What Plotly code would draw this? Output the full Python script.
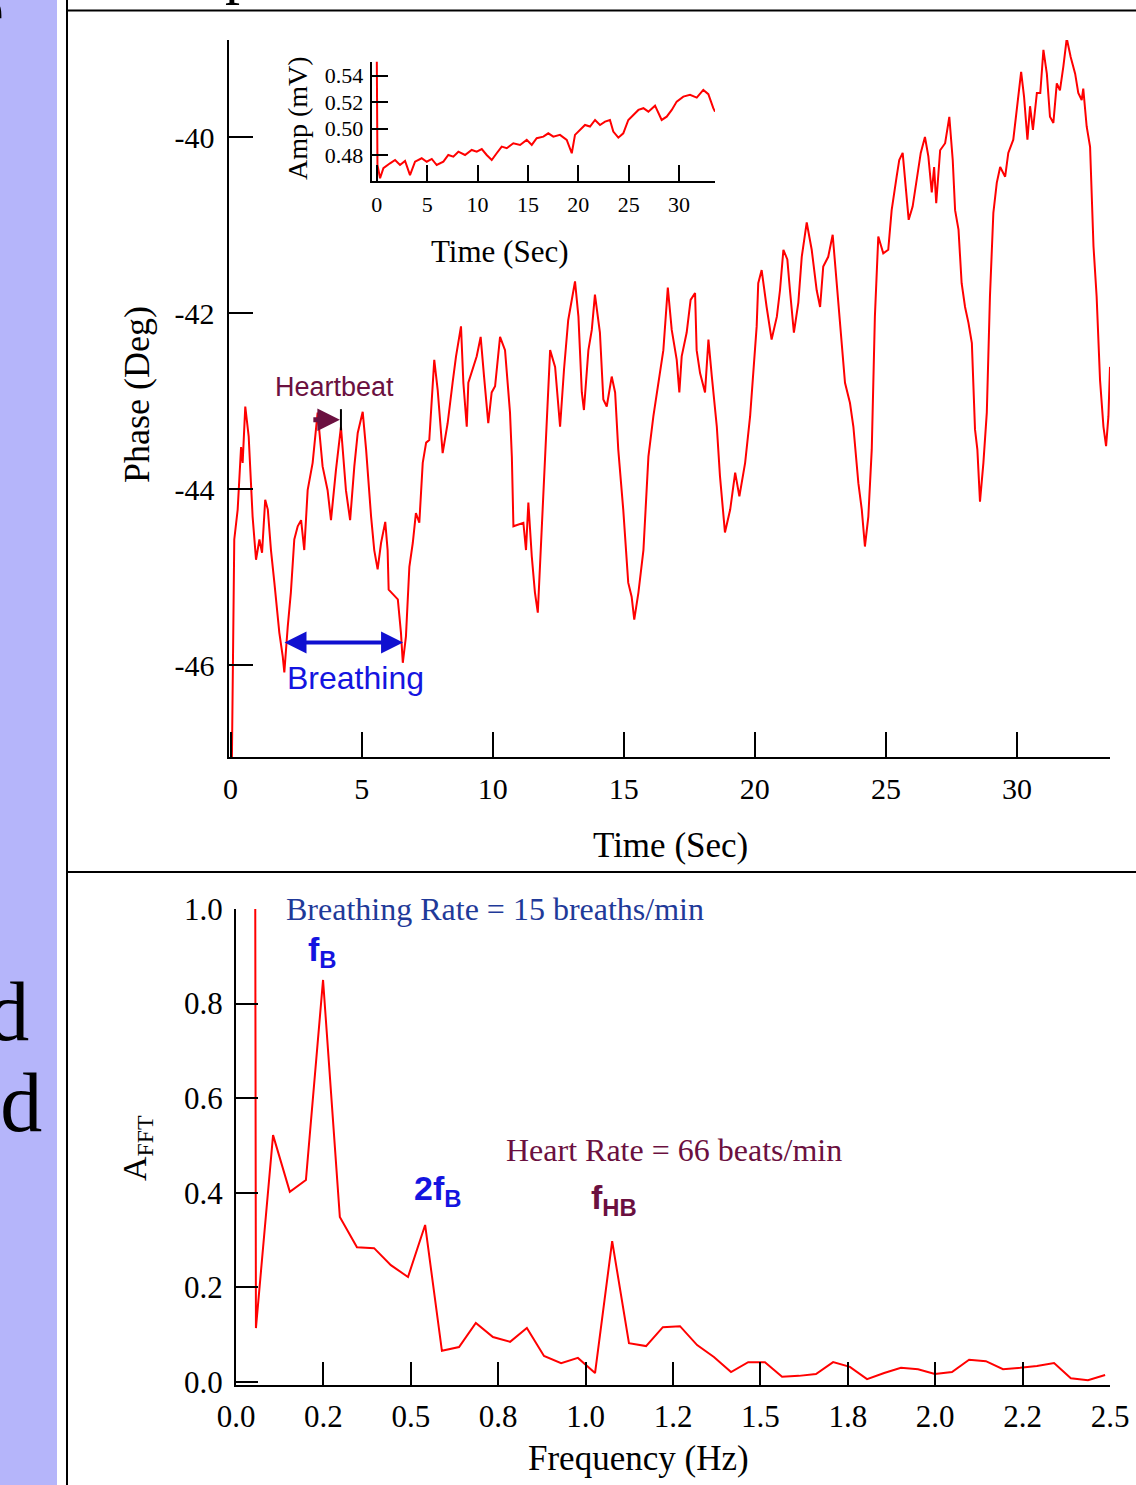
import plotly.graph_objects as go

# ---------------- data ----------------
time_s = [0.03, 0.09, 0.14, 0.27, 0.40, 0.46, 0.56, 0.69, 0.84, 0.97,
          1.10, 1.20, 1.32, 1.42, 1.54, 1.67, 1.86, 1.99, 2.05, 2.18,
          2.30, 2.43, 2.56, 2.69, 2.81, 2.94, 3.13, 3.32, 3.51, 3.70,
          3.83, 4.02, 4.21, 4.40, 4.56, 4.72, 4.85, 5.04, 5.17, 5.36,
          5.48, 5.61, 5.74, 5.90, 5.99, 6.03, 6.38, 6.50, 6.57, 6.69,
          6.82, 6.95, 7.07, 7.20, 7.33, 7.46, 7.58, 7.77, 7.90, 8.09,
          8.28, 8.47, 8.60, 8.79, 8.88, 9.01, 9.07, 9.39, 9.54, 9.67,
          9.83, 9.96, 10.09, 10.28, 10.47, 10.66, 10.73, 10.79, 11.17, 11.27,
          11.36, 11.49, 11.61, 11.72, 11.87, 12.03, 12.19, 12.38, 12.57, 12.72,
          12.88, 13.14, 13.27, 13.40, 13.48, 13.65, 13.78, 13.90, 14.09, 14.22,
          14.35, 14.54, 14.67, 14.79, 14.98, 15.17, 15.30, 15.40, 15.56, 15.75,
          15.94, 16.13, 16.32, 16.51, 16.68, 16.83, 17.02, 17.12, 17.21, 17.40,
          17.55, 17.72, 17.78, 17.91, 18.10, 18.23, 18.36, 18.55, 18.67, 18.86,
          19.06, 19.25, 19.41, 19.63, 19.82, 19.94, 20.07, 20.13, 20.26, 20.45,
          20.64, 20.84, 20.96, 21.09, 21.24, 21.34, 21.49, 21.66, 21.79, 21.98,
          22.17, 22.36, 22.49, 22.61, 22.80, 22.97, 23.12, 23.32, 23.44, 23.63,
          23.76, 23.95, 24.08, 24.20, 24.33, 24.46, 24.58, 24.71, 24.90, 25.09,
          25.22, 25.41, 25.51, 25.64, 25.77, 25.87, 26.02, 26.18, 26.33, 26.49,
          26.62, 26.75, 26.84, 26.92, 27.07, 27.26, 27.42, 27.55, 27.64, 27.77,
          27.89, 28.02, 28.15, 28.28, 28.40, 28.49, 28.59, 28.72, 28.85, 28.97,
          29.10, 29.23, 29.36, 29.55, 29.67, 29.86, 29.99, 30.16, 30.27, 30.40,
          30.50, 30.61, 30.76, 30.89, 31.01, 31.14, 31.26, 31.39, 31.52, 31.64,
          31.77, 31.90, 32.05, 32.22, 32.34, 32.47, 32.53, 32.66, 32.79, 32.92,
          33.04, 33.17, 33.30, 33.40, 33.49, 33.55]
phase_deg = [-47.6, -45.82, -44.57, -44.23, -43.52, -43.70, -43.06, -43.40, -44.31, -44.80,
             -44.57, -44.72, -44.12, -44.23, -44.69, -45.06, -45.63, -45.90, -46.08, -45.56,
             -45.17, -44.57, -44.42, -44.35, -44.69, -44.01, -43.70, -43.13, -43.74, -44.01,
             -44.35, -43.78, -43.29, -44.01, -44.35, -43.74, -43.36, -43.12, -43.55, -44.31,
             -44.69, -44.91, -44.61, -44.37, -44.69, -45.14, -45.25, -45.63, -45.97, -45.67,
             -44.88, -44.61, -44.27, -44.38, -43.70, -43.47, -43.44, -42.53, -42.87, -43.59,
             -43.25, -42.79, -42.49, -42.15, -42.79, -43.29, -42.79, -42.49, -42.27, -42.72,
             -43.25, -42.90, -42.83, -42.27, -42.42, -43.13, -43.63, -44.42, -44.38, -44.69,
             -44.15, -44.76, -45.17, -45.40, -44.49, -43.55, -42.42, -42.61, -43.29, -42.64,
             -42.08, -41.64, -42.04, -42.90, -43.10, -42.42, -42.19, -41.79, -42.22, -42.98,
             -43.06, -42.72, -42.90, -43.55, -44.23, -45.06, -45.22, -45.48, -45.17, -44.69,
             -43.63, -43.17, -42.79, -42.42, -41.71, -42.19, -42.53, -42.90, -42.49, -42.22,
             -41.85, -41.77, -42.42, -42.68, -42.90, -42.30, -42.72, -43.29, -43.85, -44.49,
             -44.23, -43.81, -44.08, -43.70, -43.17, -42.68, -42.15, -41.66, -41.51, -41.93,
             -42.30, -42.04, -41.74, -41.28, -41.39, -41.74, -42.22, -41.88, -41.36, -40.97,
             -41.28, -41.74, -41.93, -41.47, -41.36, -41.11, -41.66, -42.42, -42.79, -43.02,
             -43.29, -43.93, -44.23, -44.65, -44.31, -43.55, -42.04, -41.13, -41.32, -41.28,
             -40.83, -40.45, -40.26, -40.18, -40.63, -40.94, -40.79, -40.45, -40.18, -40.00,
             -40.22, -40.63, -40.34, -40.75, -40.15, -40.07, -39.77, -40.26, -40.83, -41.05,
             -41.66, -41.93, -42.11, -42.34, -43.32, -43.55, -44.14, -43.70, -43.13, -41.81,
             -40.86, -40.52, -40.34, -40.45, -40.18, -40.03, -39.69, -39.26, -39.54, -40.03,
             -39.65, -39.92, -39.50, -39.50, -39.01, -39.28, -39.77, -39.84, -39.39, -39.47,
             -39.20, -38.88, -39.09, -39.28, -39.50, -39.58, -39.45, -39.88, -40.11, -41.24,
             -41.81, -42.76, -43.29, -43.51, -43.17, -42.61]

amp_t = [0.00, 0.07, 0.33, 0.66, 1.32, 1.82, 2.31, 2.81, 3.30, 3.80,
         4.46, 4.96, 5.46, 5.95, 6.61, 7.10, 7.60, 8.10, 8.76, 9.42,
         9.92, 10.42, 10.91, 11.41, 11.90, 12.40, 12.90, 13.55, 14.22, 14.88,
         15.38, 15.87, 16.53, 17.02, 17.52, 18.18, 18.85, 19.35, 19.67, 20.17,
         20.66, 21.16, 21.66, 22.15, 22.65, 23.14, 23.47, 23.97, 24.46, 24.96,
         25.46, 25.96, 26.46, 26.95, 27.61, 28.27, 28.77, 29.27, 29.76, 30.42,
         31.08, 31.75, 32.40, 32.90, 33.39, 33.56]
amp_mv = [0.560, 0.4724, 0.4624, 0.4700, 0.4737, 0.4762, 0.4724, 0.4755, 0.4648, 0.4749,
          0.4775, 0.4749, 0.4770, 0.4724, 0.4749, 0.4800, 0.4787, 0.4825, 0.4800, 0.4838,
          0.4825, 0.4845, 0.4800, 0.4762, 0.4813, 0.4863, 0.4851, 0.4889, 0.4876, 0.4914,
          0.4876, 0.4927, 0.4939, 0.4964, 0.4939, 0.4952, 0.4914, 0.4813, 0.4952, 0.4989,
          0.5027, 0.5015, 0.5065, 0.5027, 0.5052, 0.5065, 0.4977, 0.4931, 0.4964, 0.5065,
          0.5103, 0.5141, 0.5154, 0.5128, 0.5173, 0.5065, 0.5090, 0.5141, 0.5204, 0.5242,
          0.5255, 0.5234, 0.5292, 0.5260, 0.5154, 0.5128]

freq_hz = [0.054, 0.057, 0.106, 0.154, 0.200, 0.249, 0.297, 0.346, 0.395, 0.443,
           0.492, 0.541, 0.589, 0.638, 0.686, 0.735, 0.784, 0.832, 0.881, 0.930,
           0.978, 1.027, 1.076, 1.124, 1.173, 1.221, 1.270, 1.319, 1.367, 1.416,
           1.465, 1.513, 1.562, 1.610, 1.659, 1.708, 1.756, 1.805, 1.854, 1.902,
           1.951, 1.999, 2.048, 2.097, 2.145, 2.194, 2.243, 2.291, 2.340, 2.388,
           2.437, 2.486]
a_fft = [1.500, 0.114, 0.522, 0.402, 0.427, 0.850, 0.349, 0.285, 0.283, 0.247,
         0.222, 0.332, 0.066, 0.074, 0.125, 0.095, 0.085, 0.114, 0.055, 0.040,
         0.051, 0.019, 0.298, 0.082, 0.076, 0.116, 0.118, 0.078, 0.053, 0.021,
         0.042, 0.042, 0.011, 0.013, 0.017, 0.042, 0.032, 0.006, 0.019, 0.030,
         0.027, 0.017, 0.021, 0.047, 0.044, 0.027, 0.030, 0.034, 0.040, 0.008,
         0.004, 0.015]

main_xticks = [0, 5, 10, 15, 20, 25, 30]
main_yticks = [-46, -44, -42, -40]
main_yticklabels = ["-46", "-44", "-42", "-40"]
inset_xticks = [0, 5, 10, 15, 20, 25, 30]
inset_yticks = [0.48, 0.50, 0.52, 0.54]
inset_yticklabels = ["0.48", "0.50", "0.52", "0.54"]
fft_xticks = [0.0, 0.25, 0.5, 0.75, 1.0, 1.25, 1.5, 1.75, 2.0, 2.25, 2.5]
fft_xticklabels = ["0.0", "0.2", "0.5", "0.8", "1.0", "1.2", "1.5", "1.8", "2.0", "2.2", "2.5"]
fft_yticks = [0.0, 0.2, 0.4, 0.6, 0.8, 1.0]
fft_yticklabels = ["0.0", "0.2", "0.4", "0.6", "0.8", "1.0"]

# ---------------- styling ----------------
W, H = 1136, 1485
def px(x):
    return x / W
def py(y):
    return 1 - y / H

SERIF = "Liberation Serif, Times New Roman, serif"
SANS = "Liberation Sans, Arial, sans-serif"
RED = "#FF0000"
MAROON = "#6B1040"
BLUE = "#1414E0"
NAVY = "#1F3A99"
LAV = "#B5B5FA"

fig = go.Figure()
fig.add_trace(go.Scatter(x=time_s, y=phase_deg, mode="lines",
                         line=dict(color=RED, width=2), xaxis="x", yaxis="y", hoverinfo="skip"))
fig.add_trace(go.Scatter(x=amp_t, y=amp_mv, mode="lines",
                         line=dict(color=RED, width=2), xaxis="x2", yaxis="y2", hoverinfo="skip"))
fig.add_trace(go.Scatter(x=freq_hz, y=a_fft, mode="lines",
                         line=dict(color=RED, width=2), xaxis="x3", yaxis="y3", hoverinfo="skip"))

common = dict(showline=True, linecolor="black", linewidth=2, ticks="inside",
              tickcolor="black", tickwidth=2, showgrid=False, zeroline=False,
              mirror=False, tickmode="array", automargin=False)

fig.update_layout(
    width=W, height=H, autosize=False,
    margin=dict(l=0, r=0, t=0, b=0, pad=0, autoexpand=False),
    paper_bgcolor="white", plot_bgcolor="rgba(0,0,0,0)", showlegend=False,
    xaxis=dict(common, domain=[px(228.5), px(1110)], range=[-0.08, 33.55],
               tickvals=main_xticks, ticktext=[str(v) for v in main_xticks],
               ticklen=25, tickfont=dict(family=SERIF, size=30, color="black"),
               anchor="y", ticklabelstandoff=4),
    yaxis=dict(common, domain=[py(757), py(40)], range=[-47.04, -38.898],
               tickvals=main_yticks, ticktext=main_yticklabels,
               ticklen=24, tickfont=dict(family=SERIF, size=30, color="black"),
               anchor="x", ticklabelstandoff=6),
    xaxis2=dict(common, domain=[px(371.7), px(715)], range=[-0.5, 33.56],
                tickvals=inset_xticks, ticktext=[str(v) for v in inset_xticks],
                ticklen=16, tickfont=dict(family=SERIF, size=22, color="black"),
                anchor="y2", ticklabelstandoff=3),
    yaxis2=dict(common, domain=[py(181), py(61.7)], range=[0.4603, 0.5506],
                tickvals=inset_yticks, ticktext=inset_yticklabels,
                ticklen=16, tickfont=dict(family=SERIF, size=22, color="black"),
                anchor="x2", ticklabelstandoff=2),
    xaxis3=dict(common, domain=[px(236), px(1110)], range=[0, 2.5],
                tickvals=fft_xticks, ticktext=fft_xticklabels,
                ticklen=23, tickfont=dict(family=SERIF, size=31, color="black"),
                anchor="y3", ticklabelstandoff=3),
    yaxis3=dict(common, domain=[py(1385), py(909)], range=[-0.0063, 1.0],
                tickvals=fft_yticks, ticktext=fft_yticklabels,
                ticklen=22, tickfont=dict(family=SERIF, size=31, color="black"),
                anchor="x3", ticklabelstandoff=5),
)

shapes = [
    dict(type="rect", xref="paper", yref="paper", x0=0, x1=px(57), y0=0, y1=1,
         fillcolor=LAV, line=dict(width=0), layer="below"),
    dict(type="line", xref="paper", yref="paper", x0=px(67), x1=px(67), y0=0, y1=1,
         line=dict(color="black", width=2)),
    dict(type="line", xref="paper", yref="paper", x0=px(67), x1=1, y0=py(10.5), y1=py(10.5),
         line=dict(color="black", width=2)),
    dict(type="line", xref="paper", yref="paper", x0=px(67), x1=1, y0=py(872), y1=py(872),
         line=dict(color="black", width=2)),
    dict(type="line", xref="x", yref="y", x0=4.21, x1=4.21, y0=-43.09, y1=-43.33,
         line=dict(color="black", width=2)),
]
fig.update_layout(shapes=shapes)

def txt(text, x, y, size, family=SERIF, color="black", angle=0, xanchor="center", yanchor="middle"):
    return dict(text=text, xref="paper", yref="paper", x=x, y=y, showarrow=False,
                textangle=angle, xanchor=xanchor, yanchor=yanchor,
                font=dict(family=family, size=size, color=color))

annotations = [
    txt("Phase (Deg)", px(137), py(395), 36, angle=-90),
    txt("Time (Sec)", px(670), py(845), 35),
    txt("Amp (mV)", px(298), py(118), 28, angle=-90),
    txt("Time (Sec)", px(500), py(252), 31),
    txt("A<sub>FFT</sub>", px(137), py(1148), 34, angle=-90),
    txt("Frequency (Hz)", px(638), py(1458), 35),
    txt("Breathing Rate = 15 breaths/min", px(284), py(909), 32, color=NAVY, xanchor="left"),
    txt("Heart Rate = 66 beats/min", px(504), py(1150), 32, color=MAROON, xanchor="left"),
    txt("<b>f<sub>B</sub></b>", px(322), py(952), 34, family=SANS, color=BLUE),
    txt("<b>2f<sub>B</sub></b>", px(437), py(1190), 34, family=SANS, color=BLUE),
    txt("<b>f<sub>HB</sub></b>", px(614), py(1199), 34, family=SANS, color=MAROON),
    txt("Heartbeat", px(334), py(387), 27, family=SANS, color=MAROON),
    txt("Breathing", px(355), py(678), 32, family=SANS, color=BLUE),
    txt("p", px(240), py(7), 60, xanchor="center", yanchor="bottom"),
    txt("ed", px(31), py(1060), 84, xanchor="right", yanchor="bottom"),
    txt("ld", px(44), py(1151), 84, xanchor="right", yanchor="bottom"),
    txt("e", px(6), py(58), 84, xanchor="right", yanchor="bottom"),
    # breathing double arrow
    dict(x=6.58, y=-45.74, ax=2.0, ay=-45.74, xref="x", yref="y", axref="x", ayref="y",
         text="", showarrow=True, arrowhead=2, startarrowhead=2, arrowside="end+start",
         arrowsize=1.1, startarrowsize=1.1, arrowwidth=4, arrowcolor="#1010D0",
         standoff=0, startstandoff=0),
    # heartbeat arrow
    dict(x=4.17, y=-43.21, ax=3.1, ay=-43.21, xref="x", yref="y", axref="x", ayref="y",
         text="", showarrow=True, arrowhead=2, arrowsize=0.9, arrowwidth=5,
         arrowcolor=MAROON, standoff=0),
]
fig.update_layout(annotations=annotations)

fig.write_html("out.html")
